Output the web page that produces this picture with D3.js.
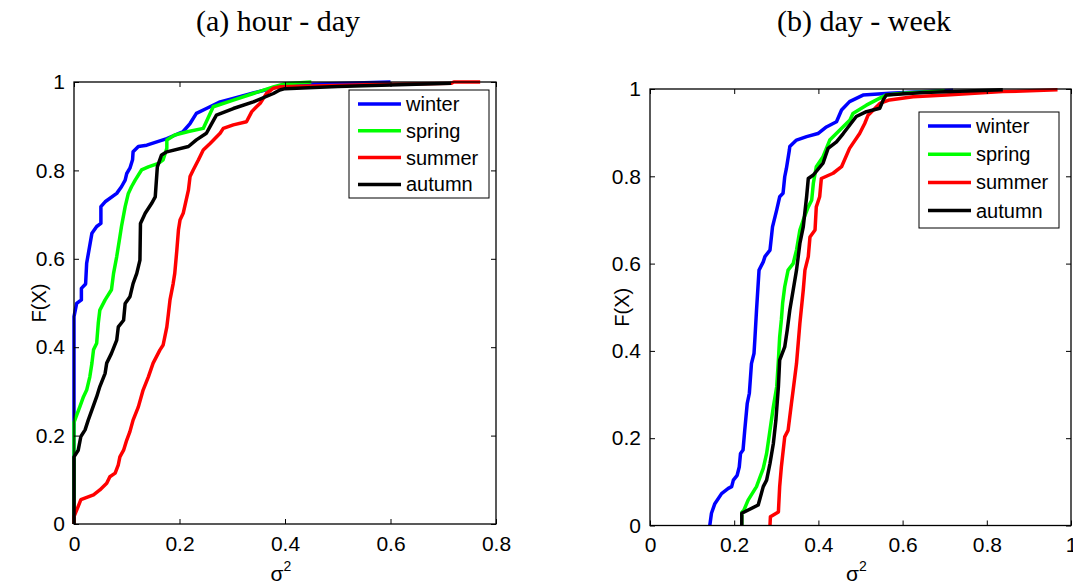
<!DOCTYPE html>
<html>
<head>
<meta charset="utf-8">
<script src="https://cdn.jsdelivr.net/npm/d3@7"></script>
<style>
  body { margin: 0; background: #fff; }
  svg text { font-family: "Liberation Sans", Arial, sans-serif; }
</style>
</head>
<body>
<svg width="1073" height="585"></svg>
<script>
// series names and colours (legend order)
const seasons = ["winter", "spring", "summer", "autumn"];
const seasonColors = ["#0000ff", "#00ff00", "#ff0000", "#000000"];

// panel (a): hour - day, points [sigma^2, F(X)]
const hourWinter = [[0,0],[0,0.469],[0.005,0.499],[0.014,0.507],[0.014,0.533],[0.022,0.543],[0.024,0.590],[0.034,0.658],[0.043,0.673],[0.051,0.680],[0.051,0.718],[0.059,0.729],[0.081,0.748],[0.090,0.763],[0.097,0.778],[0.100,0.793],[0.106,0.805],[0.111,0.824],[0.112,0.842],[0.122,0.854],[0.138,0.857],[0.176,0.872],[0.207,0.888],[0.220,0.906],[0.232,0.929],[0.251,0.940],[0.277,0.955],[0.302,0.963],[0.340,0.975],[0.390,0.990],[0.45,0.995],[0.60,1]];
const hourSpring = [[0,0],[0,0.230],[0.004,0.243],[0.011,0.265],[0.018,0.288],[0.024,0.303],[0.030,0.333],[0.034,0.364],[0.037,0.394],[0.043,0.409],[0.046,0.454],[0.049,0.484],[0.059,0.507],[0.071,0.530],[0.075,0.567],[0.081,0.605],[0.087,0.650],[0.090,0.673],[0.097,0.718],[0.103,0.748],[0.109,0.763],[0.116,0.778],[0.128,0.801],[0.141,0.808],[0.160,0.816],[0.169,0.824],[0.176,0.850],[0.176,0.869],[0.191,0.880],[0.217,0.888],[0.245,0.895],[0.255,0.921],[0.264,0.944],[0.302,0.959],[0.340,0.974],[0.378,0.989],[0.390,0.993],[0.40,0.996],[0.45,1]];
const hourSummer = [[0,0],[0,0.017],[0.008,0.040],[0.013,0.055],[0.037,0.066],[0.049,0.077],[0.062,0.092],[0.068,0.107],[0.078,0.115],[0.084,0.134],[0.087,0.152],[0.094,0.167],[0.100,0.190],[0.106,0.209],[0.112,0.235],[0.122,0.265],[0.131,0.303],[0.141,0.333],[0.150,0.364],[0.163,0.394],[0.169,0.405],[0.176,0.446],[0.179,0.476],[0.182,0.507],[0.188,0.544],[0.191,0.567],[0.195,0.620],[0.198,0.665],[0.201,0.688],[0.207,0.703],[0.217,0.756],[0.220,0.786],[0.226,0.801],[0.236,0.824],[0.245,0.846],[0.258,0.861],[0.277,0.884],[0.283,0.895],[0.302,0.903],[0.327,0.910],[0.337,0.933],[0.346,0.944],[0.353,0.952],[0.359,0.963],[0.365,0.974],[0.378,0.986],[0.390,0.989],[0.60,0.995],[0.715,0.997],[0.72,1],[0.77,1]];
const hourAutumn = [[0,0],[0,0.152],[0.008,0.167],[0.013,0.198],[0.021,0.213],[0.027,0.235],[0.034,0.258],[0.043,0.288],[0.049,0.311],[0.059,0.341],[0.062,0.364],[0.071,0.386],[0.081,0.416],[0.084,0.446],[0.094,0.461],[0.097,0.499],[0.106,0.514],[0.112,0.544],[0.119,0.567],[0.125,0.597],[0.126,0.680],[0.135,0.703],[0.147,0.725],[0.154,0.740],[0.158,0.808],[0.166,0.835],[0.176,0.842],[0.217,0.854],[0.232,0.869],[0.251,0.884],[0.261,0.906],[0.270,0.925],[0.302,0.940],[0.340,0.955],[0.378,0.974],[0.390,0.982],[0.40,0.985],[0.50,0.990],[0.715,0.997]];

// panel (b): day - week
const dayWinter = [[0.142,0],[0.146,0.028],[0.154,0.050],[0.170,0.073],[0.186,0.085],[0.194,0.089],[0.198,0.104],[0.207,0.115],[0.212,0.134],[0.215,0.165],[0.221,0.173],[0.225,0.218],[0.231,0.280],[0.236,0.303],[0.241,0.371],[0.247,0.394],[0.249,0.425],[0.253,0.493],[0.259,0.585],[0.269,0.604],[0.273,0.616],[0.285,0.631],[0.291,0.684],[0.301,0.723],[0.308,0.753],[0.316,0.761],[0.320,0.799],[0.324,0.818],[0.331,0.860],[0.332,0.868],[0.348,0.883],[0.372,0.891],[0.399,0.898],[0.419,0.913],[0.443,0.925],[0.455,0.952],[0.474,0.971],[0.506,0.986],[0.569,0.990],[0.72,0.997]];
const daySpring = [[0.218,0],[0.218,0.030],[0.223,0.035],[0.233,0.058],[0.253,0.089],[0.269,0.131],[0.277,0.165],[0.285,0.218],[0.293,0.272],[0.301,0.318],[0.305,0.379],[0.308,0.432],[0.312,0.471],[0.315,0.509],[0.320,0.547],[0.328,0.585],[0.340,0.600],[0.348,0.631],[0.356,0.677],[0.364,0.700],[0.376,0.730],[0.384,0.745],[0.388,0.784],[0.395,0.822],[0.411,0.845],[0.427,0.883],[0.451,0.906],[0.475,0.929],[0.482,0.944],[0.514,0.963],[0.546,0.979],[0.561,0.986],[0.60,0.990],[0.70,0.996]];
const daySummer = [[0.285,0],[0.286,0.020],[0.305,0.031],[0.308,0.089],[0.312,0.134],[0.320,0.203],[0.328,0.218],[0.336,0.280],[0.340,0.310],[0.348,0.371],[0.352,0.417],[0.356,0.463],[0.364,0.539],[0.368,0.585],[0.376,0.616],[0.380,0.661],[0.392,0.677],[0.395,0.730],[0.403,0.753],[0.407,0.795],[0.435,0.807],[0.455,0.822],[0.474,0.864],[0.498,0.898],[0.510,0.921],[0.518,0.940],[0.546,0.967],[0.569,0.975],[0.625,0.982],[0.704,0.986],[0.838,0.994],[0.968,0.998]];
const dayAutumn = [[0.218,0],[0.218,0.028],[0.257,0.047],[0.269,0.089],[0.277,0.104],[0.285,0.142],[0.293,0.188],[0.299,0.241],[0.305,0.318],[0.308,0.379],[0.320,0.409],[0.326,0.448],[0.332,0.493],[0.340,0.539],[0.348,0.585],[0.356,0.646],[0.364,0.684],[0.372,0.753],[0.376,0.795],[0.388,0.803],[0.411,0.830],[0.423,0.864],[0.443,0.879],[0.459,0.898],[0.490,0.937],[0.514,0.948],[0.546,0.956],[0.554,0.975],[0.561,0.986],[0.65,0.992],[0.838,0.998]];

const hourTicksX = [0, 0.2, 0.4, 0.6, 0.8];
const dayTicksX = [0, 0.2, 0.4, 0.6, 0.8, 1];
const ticksY = [0, 0.2, 0.4, 0.6, 0.8, 1];

const svg = d3.select("svg");

function drawPanel(p) {
    const x = d3.scaleLinear().domain(p.xDomain).range([p.left, p.right]);
    const y = d3.scaleLinear().domain([0, 1]).range([p.bottom, p.top]);
    const g = svg.append("g");
    const fmt = d => d === 0 ? "0" : d === 1 ? "1" : d3.format(".1f")(d);

    // curves
    const line = d3.line().x(d => x(d[0])).y(d => y(d[1]));
    p.series.forEach((s, i) => {
        g.append("path")
            .datum(s)
            .attr("d", line)
            .attr("fill", "none")
            .attr("stroke", seasonColors[i])
            .attr("stroke-width", 3.5)
            .attr("stroke-linejoin", "round");
    });

    // axes: ticks pointing inwards on all four sides, matlab style
    const tl = 5;
    g.append("g").attr("transform", `translate(0,${p.bottom})`)
        .call(d3.axisBottom(x).tickValues(p.ticksX).tickSize(-tl).tickPadding(12).tickFormat(fmt));
    g.append("g").attr("transform", `translate(0,${p.top})`)
        .call(d3.axisTop(x).tickValues(p.ticksX).tickSize(-tl).tickFormat(""));
    g.append("g").attr("transform", `translate(${p.left},0)`)
        .call(d3.axisLeft(y).tickValues(ticksY).tickSize(-tl).tickPadding(9).tickFormat(fmt));
    g.append("g").attr("transform", `translate(${p.right},0)`)
        .call(d3.axisRight(y).tickValues(ticksY).tickSize(-tl).tickFormat(""));
    g.selectAll(".domain").remove();
    g.selectAll(".tick line").attr("stroke", "#000").attr("stroke-width", 1);
    g.selectAll(".tick text").attr("font-size", 21).attr("font-family", "Liberation Sans, Arial, sans-serif").attr("fill", "#000");

    g.append("rect")
        .attr("x", p.left).attr("y", p.top)
        .attr("width", p.right - p.left).attr("height", p.bottom - p.top)
        .attr("fill", "none").attr("stroke", "#000").attr("stroke-width", 1.3);

    // title
    g.append("text")
        .attr("x", p.titleX).attr("y", 31)
        .attr("text-anchor", "middle")
        .style("font-family", "Liberation Serif, Times New Roman, serif")
        .attr("font-size", 30)
        .text(p.title);

    // y label
    g.append("text")
        .attr("transform", `translate(${p.yLabelX},${(p.top + p.bottom) / 2}) rotate(-90)`)
        .attr("text-anchor", "middle")
        .attr("font-size", 20)
        .text("F(X)");

    // x label: sigma squared
    const xl = g.append("text")
        .attr("x", (p.left + p.right) / 2 - 4).attr("y", 581)
        .attr("text-anchor", "middle")
        .attr("font-size", 21);
    xl.append("tspan").text("σ");
    xl.append("tspan").attr("font-size", 14).attr("dy", -10).text("2");

    // legend
    const lg = g.append("g").attr("transform", `translate(${p.legX},${p.legY})`);
    lg.append("rect")
        .attr("width", p.legW).attr("height", p.legH)
        .attr("fill", "#fff").attr("stroke", "#000").attr("stroke-width", 1);
    seasons.forEach((name, i) => {
        const yy = 14 + i * p.legStep;
        lg.append("line")
            .attr("x1", 9).attr("x2", 52).attr("y1", yy).attr("y2", yy)
            .attr("stroke", seasonColors[i]).attr("stroke-width", 3.5);
        lg.append("text")
            .attr("x", 57).attr("y", yy + 7)
            .attr("font-size", 20)
            .text(name);
    });
}

drawPanel({
    title: "(a) hour - day", titleX: 278,
    left: 74, right: 496, top: 82, bottom: 524,
    xDomain: [0, 0.8], ticksX: hourTicksX, yLabelX: 46,
    series: [hourWinter, hourSpring, hourSummer, hourAutumn],
    legX: 349, legY: 90, legW: 140, legH: 108, legStep: 26.8
});

drawPanel({
    title: "(b) day - week", titleX: 864,
    left: 650, right: 1071, top: 89, bottom: 525.5,
    xDomain: [0, 1], ticksX: dayTicksX, yLabelX: 629,
    series: [dayWinter, daySpring, daySummer, dayAutumn],
    legX: 919, legY: 112, legW: 140, legH: 116, legStep: 28.2
});
</script>
</body>
</html>
